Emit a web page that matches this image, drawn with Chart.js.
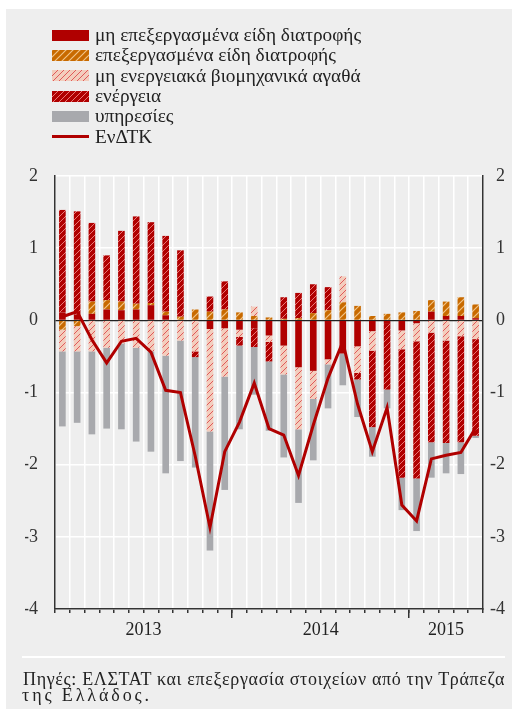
<!DOCTYPE html>
<html>
<head>
<meta charset="utf-8">
<script src="https://cdn.jsdelivr.net/npm/chart.js@4"></script>
<style>
  body { margin: 0; width: 512px; height: 709px; position: relative; overflow: hidden; background: #fff; font-family: "Liberation Serif", "Times New Roman", serif; }
  #panel { position: absolute; left: 6px; top: 9px; right: 0; bottom: 0; background: #eeeeee; }
  #chart { position: absolute; left: 0; top: 0; }
  #legend { position: absolute; left: 52px; top: 25px; }
  .item { display: flex; align-items: center; height: 20.3px; font-size: 19.3px; color: #222; white-space: nowrap; }
  .sw { width: 37px; height: 11px; margin-right: 6px; }
  .ln { width: 37px; height: 3px; margin-right: 6px; }
  #rule { position: absolute; left: 22px; top: 656px; width: 483px; height: 2px; background: #fff; }
  .src { position: absolute; font-size: 18px; line-height: 16px; color: #222; white-space: nowrap; }
</style>
</head>
<body>
<div id="panel"></div>
<canvas id="chart" width="512" height="709"></canvas>
<div id="legend"></div>
<div id="rule"></div>
<div class="src" id="src1" style="left:23px; top:671px;">Πηγές: ΕΛΣΤΑΤ και επεξεργασία στοιχείων από την Τράπεζα</div>
<div class="src" id="src2" style="left:22px; top:687px;">της Ελλάδος.</div>
<script>
// μήνες Ιαν 2013 - Μάιος 2015
const months = [
  '01/2013','02/2013','03/2013','04/2013','05/2013','06/2013','07/2013','08/2013','09/2013','10/2013','11/2013','12/2013',
  '01/2014','02/2014','03/2014','04/2014','05/2014','06/2014','07/2014','08/2014','09/2014','10/2014','11/2014','12/2014',
  '01/2015','02/2015','03/2015','04/2015','05/2015'
];
const yearLabels = ['2013', '2014', '2015'];

const seriesNames = [
  'μη επεξεργασμένα είδη διατροφής',
  'επεξεργασμένα είδη διατροφής',
  'μη ενεργειακά βιομηχανικά αγαθά',
  'ενέργεια',
  'υπηρεσίες'
];
const lineName = 'ΕνΔΤΚ';

const unprocessedFood = [0.11, 0.08, 0.09, 0.15, 0.14, 0.15, 0.21, 0.07, 0.00, 0.00, -0.12, -0.11,
  -0.13, -0.11, -0.21, -0.35, -0.65, -0.70, -0.54, -0.46, -0.36, -0.15, -0.05, -0.14,
  -0.04, 0.12, 0.06, 0.06, 0.03];
const processedFood = [-0.13, -0.08, 0.17, 0.13, 0.12, 0.08, 0.03, 0.05, 0.05, 0.15, 0.12, 0.15,
  0.11, 0.06, 0.04, 0.02, 0.03, 0.10, 0.14, 0.25, 0.20, 0.06, 0.09, 0.11,
  0.13, 0.16, 0.20, 0.26, 0.19];
const industrialGoods = [-0.30, -0.35, -0.43, -0.38, -0.32, -0.38, -0.43, -0.49, -0.28, -0.43, -1.42, -0.67,
  -0.10, 0.13, -0.09, -0.40, -0.86, -0.39, -0.07, 0.36, -0.37, -0.27, 0.00, -0.26,
  -0.25, -0.17, -0.28, -0.22, -0.26];
const energy = [1.42, 1.43, 1.09, 0.62, 0.98, 1.21, 1.12, 1.05, 0.92, -0.08, 0.21, 0.39,
  -0.12, -0.26, -0.27, 0.30, 0.35, 0.40, 0.32, 0.00, -0.09, -1.06, -0.91, -1.78,
  -1.90, -1.52, -1.42, -1.47, -1.34];
const services = [-1.04, -0.99, -1.15, -1.12, -1.19, -1.30, -1.39, -1.63, -1.67, -1.53, -1.65, -1.57,
  -1.16, -0.66, -0.96, -1.15, -1.02, -0.85, -0.61, -0.44, -0.52, -0.41, -0.26, -0.45,
  -0.73, -0.49, -0.42, -0.44, -0.03];
const hicp = [0.05, 0.12, -0.27, -0.59, -0.29, -0.25, -0.44, -0.97, -1.00, -1.88, -2.87, -1.82,
  -1.41, -0.87, -1.50, -1.59, -2.15, -1.45, -0.80, -0.30, -1.16, -1.82, -1.21, -2.56,
  -2.78, -1.92, -1.87, -1.83, -1.49];

const yTicksMin = -4, yTicksMax = 2;

const serif = 'Liberation Serif';
const darkRed = '#b00000';

// γραμμοσκιάσεις
function makeHatch(bg, stripe, size, width) {
  const c = document.createElement('canvas');
  c.width = size; c.height = size;
  const g = c.getContext('2d');
  g.fillStyle = bg;
  g.fillRect(0, 0, size, size);
  g.strokeStyle = stripe;
  g.lineWidth = width;
  g.beginPath();
  g.moveTo(-1, size + 1); g.lineTo(size + 1, -1);
  g.moveTo(-1, 1); g.lineTo(1, -1);
  g.moveTo(size - 1, size + 1); g.lineTo(size + 1, size - 1);
  g.stroke();
  return c;
}

const ctx = document.getElementById('chart').getContext('2d');
const tiles = {
  processed: makeHatch('#c86a00', 'rgba(255,225,180,0.75)', 7, 1.2),
  industrial: makeHatch('#f3cdbd', '#e05a5a', 6, 1),
  energy: makeHatch(darkRed, 'rgba(255,160,160,0.75)', 6, 1)
};
const fills = [
  darkRed,
  ctx.createPattern(tiles.processed, 'repeat'),
  ctx.createPattern(tiles.industrial, 'repeat'),
  ctx.createPattern(tiles.energy, 'repeat'),
  '#a8a9ad'
];
const legendFills = [
  darkRed,
  'url(' + tiles.processed.toDataURL() + ')',
  'url(' + tiles.industrial.toDataURL() + ')',
  'url(' + tiles.energy.toDataURL() + ')',
  '#a8a9ad'
];
const barSeries = [unprocessedFood, processedFood, industrialGoods, energy, services];

// θέσεις ετών στον άξονα
const yearMid = {};
const yearBounds = [];
yearLabels.forEach((yr, k) => {
  const idx = months.map((m, i) => m.endsWith(yr) ? i : -1).filter(i => i >= 0);
  yearMid[(idx[0] + idx[idx.length - 1]) / 2] = yr;
  if (k > 0) yearBounds.push(idx[0] - 0.5);
});
const yearTicks = Object.keys(yearMid).map(Number).concat(yearBounds).sort((a, b) => a - b);

const datasets = [{
  type: 'line',
  label: lineName,
  data: hicp,
  xAxisID: 'x',
  yAxisID: 'y2',
  borderColor: darkRed,
  borderWidth: 3,
  pointRadius: 0,
  tension: 0,
  fill: false,
  borderJoinStyle: 'miter',
  order: 0
}];
barSeries.forEach((vals, i) => {
  datasets.push({
    type: 'bar',
    label: seriesNames[i],
    data: vals,
    xAxisID: 'x',
    yAxisID: 'y',
    backgroundColor: fills[i],
    borderWidth: 0,
    barPercentage: 0.45,
    categoryPercentage: 1,
    stack: 's',
    order: 1
  });
});

new Chart(ctx, {
  type: 'bar',
  data: { labels: months, datasets: datasets },
  options: {
    responsive: false,
    animation: false,
    layout: { padding: { left: 25, right: 7, top: 176, bottom: 64 } },
    plugins: { legend: { display: false }, tooltip: { enabled: false } },
    scales: {
      x: {
        type: 'category',
        position: 'bottom',
        stacked: true,
        offset: true,
        ticks: { display: false },
        grid: { offset: true, color: '#ffffff', lineWidth: 1.5, tickColor: '#333', tickLength: 4 },
        border: { display: true, color: '#333', width: 1.5 },
        afterFit: a => { a.height = 0; }
      },
      xYear: {
        type: 'linear',
        position: 'bottom',
        offset: false,
        min: -0.5,
        max: months.length - 0.5,
        afterBuildTicks: a => { a.ticks = yearTicks.map(v => ({ value: v })); },
        ticks: {
          autoSkip: false,
          maxRotation: 0,
          padding: 1,
          color: '#222',
          font: { family: serif, size: 18 },
          callback: v => yearMid[v] || ''
        },
        grid: {
          offset: false,
          drawOnChartArea: false,
          tickLength: 9,
          lineWidth: 1.5,
          color: c => (c.tick && yearBounds.includes(c.tick.value)) ? '#333' : 'rgba(0,0,0,0)'
        },
        border: { display: false },
        afterFit: a => { a.height = 36; }
      },
      y: {
        position: 'left',
        stacked: true,
        min: yTicksMin,
        max: yTicksMax,
        ticks: { stepSize: 1, padding: 17, color: '#333', font: { family: serif, size: 18 } },
        grid: {
          drawTicks: false,
          color: c => c.tick.value === 0 ? '#222' : '#ffffff',
          lineWidth: c => c.tick.value === 0 ? 1.2 : 1.5
        },
        border: { color: '#333', width: 1.5 },
        afterFit: a => { a.width = 30; }
      },
      y2: {
        type: 'linear',
        position: 'right',
        min: yTicksMin,
        max: yTicksMax,
        ticks: { stepSize: 1, crossAlign: 'far', color: '#333', font: { family: serif, size: 18 } },
        grid: { drawOnChartArea: false, drawTicks: false },
        border: { color: '#333', width: 1.5 },
        afterFit: a => { a.width = 22; }
      }
    }
  }
});

// υπόμνημα
const legend = document.getElementById('legend');
seriesNames.forEach((name, i) => {
  const row = document.createElement('div');
  row.className = 'item';
  const sw = document.createElement('div');
  sw.className = 'sw';
  sw.style.background = legendFills[i];
  row.appendChild(sw);
  row.appendChild(document.createTextNode(name));
  legend.appendChild(row);
});
const lrow = document.createElement('div');
lrow.className = 'item';
const ln = document.createElement('div');
ln.className = 'ln';
ln.style.background = darkRed;
lrow.appendChild(ln);
lrow.appendChild(document.createTextNode(lineName));
legend.appendChild(lrow);

// πηγή: πλάτη γραμμών όπως στο πρωτότυπο
function fitWidth(el, target) {
  const n = el.textContent.length;
  el.style.letterSpacing = ((target - el.getBoundingClientRect().width) / n) + 'px';
}
fitWidth(document.getElementById('src1'), 482);
fitWidth(document.getElementById('src2'), 130);
</script>
</body>
</html>
